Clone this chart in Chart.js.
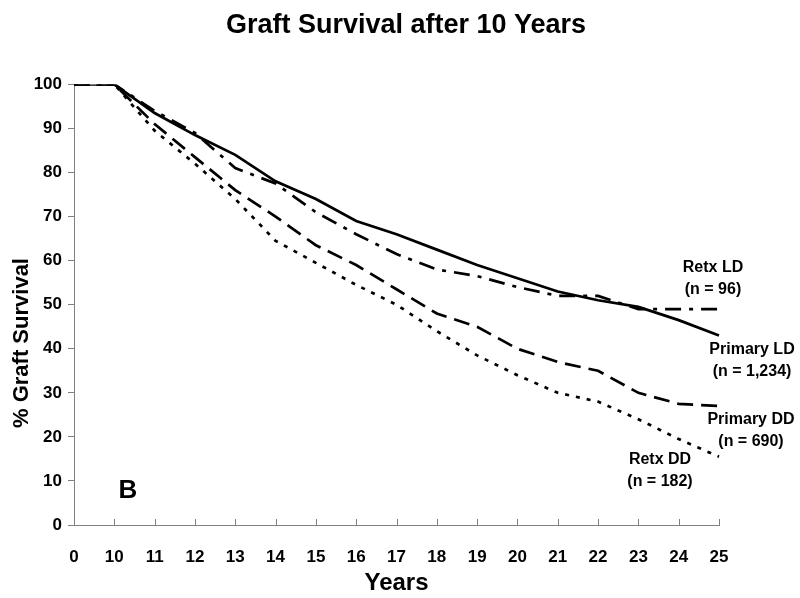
<!DOCTYPE html>
<html>
<head>
<meta charset="utf-8">
<script src="https://cdn.jsdelivr.net/npm/chart.js@4.4.1/dist/chart.umd.min.js"></script>
<style>
  html, body { margin: 0; padding: 0; background: #fff; }
  #wrap { width: 800px; height: 598px; }
</style>
</head>
<body>
<div id="wrap"><canvas id="chart"></canvas></div>
<script>
// Category axis: Excel-style, "0" then 10..25
const years = ['0', '10', '11', '12', '13', '14', '15', '16', '17', '18', '19', '20', '21', '22', '23', '24', '25'];

// % graft survival
const primaryLD = [100, 100, 93.5, 88.5, 84, 78, 74, 69, 66, 62.5, 59, 56, 53, 51, 49.5, 46.5, 43];
const retxLD    = [100, 100, 94, 89, 81, 77.5, 71, 66, 61.5, 58, 56.5, 54, 52, 52, 49, 49, 49];
const primaryDD = [100, 100, 91, 83.5, 76, 70, 63.5, 59, 53.5, 48, 45, 40, 37, 35, 30, 27.5, 27];
const retxDD    = [100, 100, 89.5, 82, 74, 64.5, 59.5, 54.5, 50, 44, 38.5, 34, 30, 28, 24, 19.5, 15.5];

const yTicks = [0, 10, 20, 30, 40, 50, 60, 70, 80, 90, 100];

// Text labels placed next to the curves
const curveLabels = [
    { lines: ['Retx LD', '(n = 96)'], x: 713, y: 268 },
    { lines: ['Primary LD', '(n = 1,234)'], x: 752, y: 350 },
    { lines: ['Primary DD', '(n = 690)'], x: 751, y: 420 },
    { lines: ['Retx DD', '(n = 182)'], x: 660, y: 460 }
];

const FONT = 'Arial, "Liberation Sans", Helvetica, sans-serif';
const AXIS_GRAY = '#808080';

// Draws inward x ticks, the y title, panel letter and curve labels
const extrasPlugin = {
    id: 'extras',
    afterDraw(chart) {
        const c = chart.ctx;
        const xs = chart.scales.x;
        const bottom = chart.chartArea.bottom;

        c.save();
        c.strokeStyle = AXIS_GRAY;
        c.lineWidth = 1;
        for (let i = 1; i < years.length; i++) {
            const px = Math.round(xs.getPixelForTick(i)) + 0.5;
            c.beginPath();
            c.moveTo(px, bottom);
            c.lineTo(px, bottom - 6);
            c.stroke();
        }

        c.fillStyle = '#000';
        c.textAlign = 'center';
        c.textBaseline = 'middle';

        // y axis title
        c.save();
        c.translate(22, 343);
        c.rotate(-Math.PI / 2);
        c.font = 'bold 22px ' + FONT;
        c.fillText('% Graft Survival', 0, 0);
        c.restore();

        // panel letter
        c.font = 'bold 26px ' + FONT;
        c.fillText('B', 128, 491);

        c.font = 'bold 16px ' + FONT;
        curveLabels.forEach(l => {
            l.lines.forEach((t, k) => c.fillText(t, l.x, l.y + k * 22));
        });
        c.restore();
    }
};

const lineStyle = (label, data, dash) => ({
    label: label,
    data: data,
    borderColor: '#000',
    borderWidth: 2.7,
    borderDash: dash,
    pointRadius: 0,
    fill: false,
    tension: 0
});

const ctx = document.getElementById('chart').getContext('2d');
new Chart(ctx, {
    type: 'line',
    data: {
        labels: years,
        datasets: [
            lineStyle('Retx DD', retxDD, [4, 7]),
            lineStyle('Primary DD', primaryDD, [16, 8]),
            lineStyle('Retx LD', retxLD, [16, 8, 4, 8]),
            lineStyle('Primary LD', primaryLD, [])
        ]
    },
    plugins: [extrasPlugin],
    options: {
        responsive: true,
        maintainAspectRatio: false,
        animation: false,
        layout: { padding: { left: 12, right: 0, top: 0, bottom: 0 } },
        plugins: {
            legend: { display: false },
            tooltip: { enabled: false },
            title: {
                display: true,
                text: 'Graft Survival after 10 Years',
                color: '#000',
                font: { family: FONT, size: 27, weight: 'bold' },
                padding: { top: 9, bottom: 43 }
            }
        },
        scales: {
            x: {
                type: 'category',
                offset: false,
                afterFit: s => { s.height = 73; },
                grid: { drawOnChartArea: false, drawTicks: false, color: AXIS_GRAY },
                border: { color: AXIS_GRAY, width: 1 },
                ticks: {
                    autoSkip: false,
                    maxRotation: 0,
                    padding: 22,
                    color: '#000',
                    font: { family: FONT, size: 17, weight: 'bold' }
                },
                title: {
                    display: true,
                    text: 'Years',
                    color: '#000',
                    font: { family: FONT, size: 24, weight: 'bold' },
                    padding: { top: 0, bottom: 0 }
                }
            },
            y: {
                min: 0,
                max: 100,
                afterFit: s => { s.width = 62; },
                afterBuildTicks: s => { s.ticks = yTicks.map(v => ({ value: v })); },
                grid: { drawOnChartArea: false, drawTicks: true, tickLength: 6, color: AXIS_GRAY },
                border: { color: AXIS_GRAY, width: 1 },
                ticks: {
                    padding: 6,
                    color: '#000',
                    font: { family: FONT, size: 17, weight: 'bold' }
                }
            },
            yRight: {
                position: 'right',
                display: true,
                afterFit: s => { s.width = 81; },
                grid: { display: false },
                border: { display: false },
                ticks: { display: false }
            }
        }
    }
});
</script>
</body>
</html>
